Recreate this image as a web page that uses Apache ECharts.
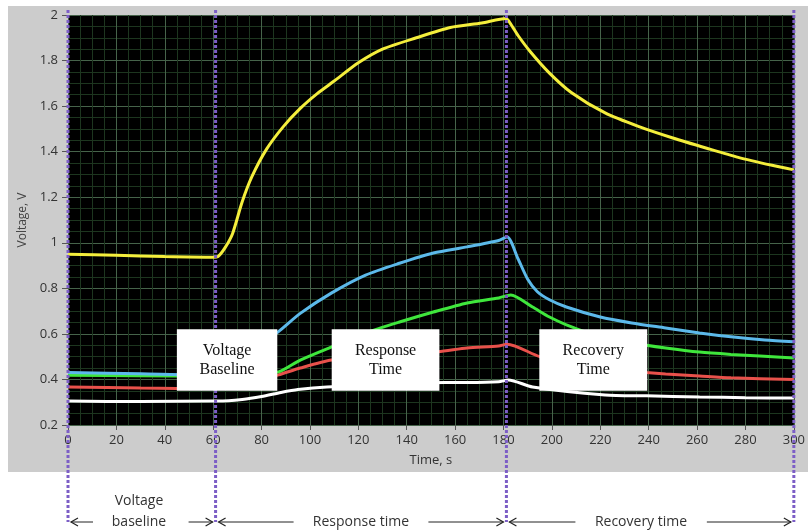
<!DOCTYPE html>
<html>
<head>
<meta charset="utf-8">
<script src="https://cdn.jsdelivr.net/npm/echarts@6/dist/echarts.min.js"></script>
<style>
html, body { margin: 0; padding: 0; background: #fff; }
#main { width: 808px; height: 531px; }
</style>
</head>
<body>
<div id="main"></div>
<script>
// traces: time (s) and voltage (V)
var yellowT = [0, 20, 40, 60, 62, 65, 68, 72, 76, 82, 89, 96, 103, 110, 120, 130, 144, 158, 171, 181, 183, 186, 191, 199, 208, 222, 236, 250, 264, 277, 291, 300];
var yellowV = [0.95, 0.945, 0.94, 0.937, 0.94, 0.98, 1.04, 1.18, 1.29, 1.41, 1.51, 1.59, 1.655, 1.71, 1.79, 1.85, 1.90, 1.945, 1.965, 1.985, 1.96, 1.91, 1.84, 1.745, 1.66, 1.57, 1.51, 1.46, 1.415, 1.375, 1.34, 1.32];

var blueT = [0, 30, 60, 62, 70, 78, 87, 96, 109, 123, 137, 151, 165, 178, 181.5, 186, 190, 194, 199, 206, 220, 233, 247, 261, 274, 288, 300];
var blueV = [0.43, 0.425, 0.42, 0.42, 0.47, 0.54, 0.61, 0.69, 0.78, 0.858, 0.91, 0.955, 0.982, 1.01, 1.025, 0.93, 0.84, 0.785, 0.75, 0.718, 0.674, 0.648, 0.626, 0.604, 0.587, 0.573, 0.565];

var greenT = [0, 30, 60, 62, 75, 87, 96, 109, 123, 137, 151, 165, 178, 183, 192, 199, 206, 220, 233, 247, 261, 274, 300];
var greenV = [0.418, 0.416, 0.415, 0.415, 0.42, 0.433, 0.485, 0.543, 0.604, 0.652, 0.696, 0.736, 0.758, 0.771, 0.718, 0.674, 0.64, 0.587, 0.56, 0.538, 0.52, 0.51, 0.494];

var redT = [0, 30, 60, 62, 75, 87, 96, 109, 130, 153, 165, 178, 181.5, 195, 215, 239, 247, 261, 274, 300];
var redV = [0.367, 0.362, 0.36, 0.36, 0.385, 0.42, 0.45, 0.485, 0.505, 0.522, 0.538, 0.547, 0.555, 0.5, 0.45, 0.43, 0.424, 0.415, 0.407, 0.40];

var whiteT = [0, 30, 60, 62, 72, 80, 88, 95, 107, 156, 165, 178, 182, 192, 222, 239, 261, 280, 300];
var whiteV = [0.305, 0.303, 0.305, 0.305, 0.312, 0.325, 0.343, 0.356, 0.367, 0.387, 0.387, 0.39, 0.398, 0.367, 0.332, 0.328, 0.323, 0.32, 0.318];

var xTicks = [0, 300, 20];
var yTicks = [0.2, 2, 0.2];

function pairs(t, v) {
    return t.map(function (x, i) { return [x, v[i]]; });
}

function trace(data, color) {
    return {
        type: 'line',
        data: data,
        symbol: 'none',
        smooth: 0.25,
        lineStyle: { color: color, width: 3 },
        animation: false
    };
}

var myChart = echarts.init(document.getElementById('main'));

var option = {
    animation: false,
    backgroundColor: '#fff',
    grid: {
        left: 68, top: 15, right: 13, bottom: 106,
        show: true, backgroundColor: '#000', borderWidth: 0
    },
    xAxis: {
        type: 'value',
        min: xTicks[0], max: xTicks[1], interval: xTicks[2],
        name: 'Time, s',
        nameLocation: 'middle',
        nameGap: 29,
        nameTextStyle: { color: '#333', fontSize: 13, fontFamily: 'Open Sans' },
        axisLine: { show: false },
        axisTick: { show: true, length: 5, lineStyle: { color: '#555' } },
        axisLabel: { color: '#333', fontSize: 13, fontFamily: 'Open Sans', margin: 9 },
        splitLine: { show: true, lineStyle: { color: '#46634a', width: 1 } },
        minorTick: { show: false, splitNumber: 4 },
        minorSplitLine: { show: true, lineStyle: { color: '#1d361f', width: 1 } }
    },
    yAxis: {
        type: 'value',
        min: yTicks[0], max: yTicks[1], interval: yTicks[2],
        name: 'Voltage, V',
        nameLocation: 'middle',
        nameGap: 35,
        nameTextStyle: { color: '#444', fontSize: 12, fontFamily: 'Open Sans' },
        axisLine: { show: false },
        axisTick: { show: true, length: 6, lineStyle: { color: '#555' } },
        axisLabel: { color: '#333', fontSize: 13, fontFamily: 'Open Sans', margin: 10 },
        splitLine: { show: true, lineStyle: { color: '#46634a', width: 1 } },
        minorTick: { show: false, splitNumber: 4 },
        minorSplitLine: { show: true, lineStyle: { color: '#1d361f', width: 1 } }
    },
    series: [
        trace(pairs(whiteT, whiteV), '#ffffff'),
        trace(pairs(redT, redV), '#e8514b'),
        trace(pairs(greenT, greenV), '#3fe63c'),
        trace(pairs(blueT, blueV), '#5cb9ea'),
        trace(pairs(yellowT, yellowV), '#f4ee3c')
    ]
};

myChart.setOption(option);

// annotations, placed through the chart's own scales
function px(x, y) {
    return myChart.convertToPixel({ gridIndex: 0 }, [x, y]);
}

var purple = '#7c5ec6';
var arrowY = 522;
var graphics = [];

// grey instrument panel behind the plot
graphics.push({
    type: 'rect', z: -5,
    shape: { x: 8, y: 6, width: 800, height: 466 },
    style: { fill: '#cccccc' }
});

// dotted phase separators
[0, 61, 181.2, 300].forEach(function (t) {
    var p = px(t, 2);
    graphics.push({
        type: 'line', z: 10,
        shape: { x1: p[0], y1: 10, x2: p[0], y2: 522 },
        style: { stroke: purple, lineWidth: 3, lineDash: [3, 2] }
    });
});

// white label boxes
var boxes = [
    { t0: 45, t1: 86.5, text: 'Voltage\nBaseline' },
    { t0: 109, t1: 153.5, text: 'Response\nTime' },
    { t0: 194.8, t1: 239.4, text: 'Recovery\nTime' }
];
boxes.forEach(function (b) {
    var a = px(b.t0, 0.62), c = px(b.t1, 0.35);
    graphics.push({
        type: 'rect', z: 20,
        shape: { x: a[0], y: a[1], width: c[0] - a[0], height: c[1] - a[1] },
        style: { fill: '#fff' }
    });
    graphics.push({
        type: 'text', z: 21,
        x: (a[0] + c[0]) / 2, y: (a[1] + c[1]) / 2,
        style: {
            text: b.text, fill: '#111', font: '16px "Liberation Serif"',
            align: 'center', verticalAlign: 'middle', lineHeight: 19
        }
    });
});

// bottom arrows with phase names
function arrow(xa, xb, dir) {
    var tip = dir < 0 ? xa : xb;
    graphics.push({
        type: 'line', z: 10,
        shape: { x1: xa, y1: arrowY, x2: xb, y2: arrowY },
        style: { stroke: '#222', lineWidth: 1 }
    });
    graphics.push({
        type: 'polyline', z: 10,
        shape: { points: [[tip - dir * 7, arrowY - 4], [tip, arrowY], [tip - dir * 7, arrowY + 4]] },
        style: { stroke: '#222', lineWidth: 1.2, fill: null }
    });
}

var phases = [
    { t0: 0, t1: 61, text: 'baseline', top: 'Voltage', gapL: 22, gapR: 24 },
    { t0: 61, t1: 181.2, text: 'Response time', gapL: 75, gapR: 75 },
    { t0: 181.2, t1: 300, text: 'Recovery time', gapL: 66, gapR: 84 }
];
phases.forEach(function (ph) {
    var l = px(ph.t0, 0.2)[0] + 3, r = px(ph.t1, 0.2)[0] - 3;
    var mid = (l + r) / 2;
    if (ph.top) mid = l + 68;
    if (ph.t0 === 181.2) mid = 641;
    arrow(l, l + ph.gapL, -1);
    arrow(r - ph.gapR, r, 1);
    graphics.push({
        type: 'text', z: 10, x: mid, y: arrowY,
        style: {
            text: ph.text, fill: '#333', font: '14px "Open Sans"',
            align: 'center', verticalAlign: 'middle'
        }
    });
    if (ph.top) {
        graphics.push({
            type: 'text', z: 10, x: mid, y: arrowY - 21,
            style: {
                text: ph.top, fill: '#333', font: '14px "Open Sans"',
                align: 'center', verticalAlign: 'middle'
            }
        });
    }
});

myChart.setOption({ graphic: graphics });

window.onresize = function () {
    myChart.resize();
};
</script>
</body>
</html>
